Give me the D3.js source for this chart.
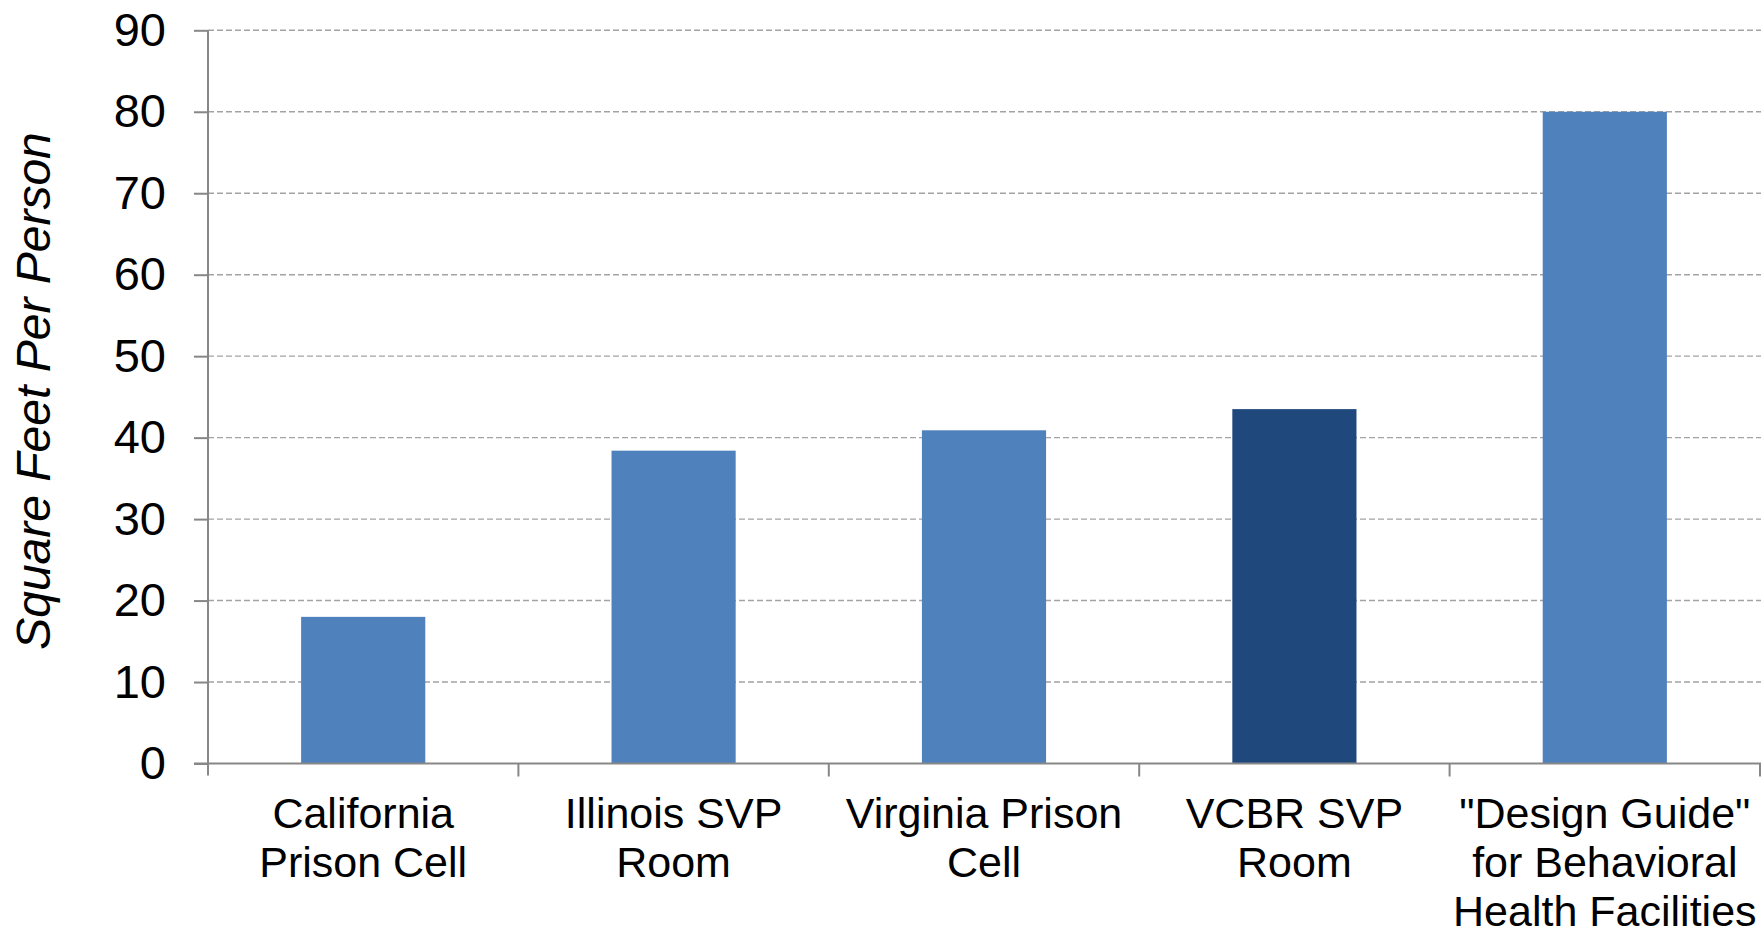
<!DOCTYPE html>
<html>
<head>
<meta charset="utf-8">
<script src="https://cdn.jsdelivr.net/npm/d3@7"></script>
<style>
  body { margin: 0; background: #fff; }
  svg { display: block; font-family: "Liberation Sans", Arial, sans-serif; }
</style>
</head>
<body>
<svg id="chart" width="1761" height="929"></svg>
<script>
// chart data
var categories = ["California Prison Cell", "Illinois SVP Room", "Virginia Prison Cell", "VCBR SVP Room", "\"Design Guide\" for Behavioral Health Facilities"];
var labelLines = [
  ["California", "Prison Cell"],
  ["Illinois SVP", "Room"],
  ["Virginia Prison", "Cell"],
  ["VCBR SVP", "Room"],
  ["\"Design Guide\"", "for Behavioral", "Health Facilities"]
];
var values = [18, 38.4, 40.9, 43.5, 80];
var highlight = [false, false, false, true, false];
var yTicks = [0, 10, 20, 30, 40, 50, 60, 70, 80, 90];
var yTitle = "Square Feet Per Person";

var svg = d3.select("#chart");
// note: "top" is taken by window.top, so plot edges get their own names
var plotLeft = 208, plotRight = 1760, plotTop = 30.3, plotBottom = 763.5;

var x = d3.scaleBand().domain(categories).range([plotLeft, plotRight])
  .paddingInner(0.6).paddingOuter(0.3);
var y = d3.scaleLinear().domain([0, 90]).range([plotBottom, plotTop]);

// dashed grid
svg.append("g").selectAll("line")
  .data(yTicks.filter(function (d) { return d > 0; }))
  .enter().append("line")
  .attr("x1", plotLeft).attr("x2", 1761)
  .attr("y1", function (d) { return y(d); })
  .attr("y2", function (d) { return y(d); })
  .attr("stroke", "#a3a3a3")
  .attr("stroke-width", 1.4)
  .attr("stroke-dasharray", "6,3");

// bars
svg.append("g").selectAll("rect")
  .data(values)
  .enter().append("rect")
  .attr("x", function (d, i) { return x(categories[i]); })
  .attr("width", x.bandwidth())
  .attr("y", function (d) { return y(d); })
  .attr("height", function (d) { return y(0) - y(d); })
  .attr("fill", function (d, i) { return highlight[i] ? "#1f497d" : "#4f81bd"; });

// y axis
var yAxis = svg.append("g")
  .attr("transform", "translate(" + plotLeft + ",0)")
  .call(d3.axisLeft(y).tickValues(yTicks).tickSize(14).tickPadding(28).tickSizeOuter(0));
yAxis.select(".domain").attr("stroke", "#878787").attr("stroke-width", 2)
  .attr("d", "M0," + plotTop + "V" + (plotBottom + 12));
yAxis.selectAll(".tick line").attr("stroke", "#878787").attr("stroke-width", 2);
yAxis.selectAll(".tick text")
  .attr("font-size", 47).attr("fill", "#000")
  .attr("font-family", "Liberation Sans, Arial, sans-serif");

// x axis line + ticks at band edges
var xAxis = svg.append("g");
xAxis.append("line")
  .attr("x1", plotLeft - 14).attr("x2", 1761)
  .attr("y1", plotBottom).attr("y2", plotBottom)
  .attr("stroke", "#878787").attr("stroke-width", 2);
var edges = categories.map(function (c) { return x(c) - x.step() * x.paddingOuter(); });
edges.push(plotRight);
xAxis.selectAll("line.edge")
  .data(edges.slice(1))
  .enter().append("line")
  .attr("class", "edge")
  .attr("x1", function (d) { return d; }).attr("x2", function (d) { return d; })
  .attr("y1", plotBottom).attr("y2", plotBottom + 13)
  .attr("stroke", "#878787").attr("stroke-width", 2);

// category labels
var labels = svg.append("g")
  .attr("font-size", 43)
  .attr("text-anchor", "middle")
  .attr("fill", "#000");
labels.selectAll("text")
  .data(categories)
  .enter().append("text")
  .attr("x", function (c) { return x(c) + x.bandwidth() / 2; })
  .attr("y", 828)
  .each(function (c, i) {
    var t = d3.select(this);
    labelLines[i].forEach(function (line, j) {
      t.append("tspan")
        .attr("x", x(c) + x.bandwidth() / 2)
        .attr("y", 828 + j * 49)
        .text(line);
    });
  });

// y title
svg.append("text")
  .attr("transform", "translate(50,391) rotate(-90)")
  .attr("text-anchor", "middle")
  .attr("font-size", 48)
  .attr("font-style", "italic")
  .attr("fill", "#000")
  .text(yTitle);
</script>
</body>
</html>
